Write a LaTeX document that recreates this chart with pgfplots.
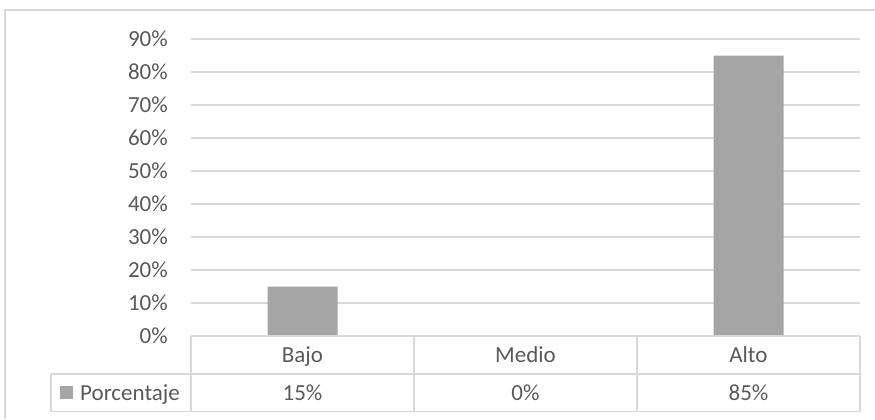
\documentclass[border=0pt]{standalone}
\usepackage{fontspec}
\setmainfont{Carlito}
\usepackage{pgfplots}
\pgfplotsset{compat=1.18}
\definecolor{barcol}{HTML}{A5A5A5}
\definecolor{gridcol}{HTML}{D9D9D9}
\definecolor{txtcol}{HTML}{595959}
\newcommand{\lbl}{\fontsize{23bp}{27bp}\selectfont}
\begin{document}
\begin{tikzpicture}[x=1bp,y=1bp]
\useasboundingbox (0,0) rectangle (875,419);
% chart frame (cut by the image edge at right and bottom)
\draw[gridcol, line width=1.2bp] (5,0) -- (5,409) -- (875,409);
\begin{axis}[
  at={(191bp,83bp)}, anchor=south west,
  scale only axis, width=669bp, height=297bp,
  xmin=-0.5, xmax=2.5, ymin=0, ymax=90,
  ybar, bar width=70bp,
  xtick=\empty,
  ytick={0,10,...,90},
  yticklabel={\pgfmathprintnumber{\tick}\%},
  /pgf/number format/assume math mode=true,
  ymajorgrids, grid style={gridcol, line width=1.2bp},
  axis line style={draw=none},
  major tick length=0pt,
  tick label style={font=\lbl, text=txtcol},
  yticklabel style={inner sep=0pt, xshift=-23bp},
]
\addplot[fill=barcol, draw=none] coordinates {(0,15) (1,0) (2,85)};
\end{axis}
% data table
\begin{scope}[gridcol, line width=1.2bp]
  \draw (191,83) -- (860,83);
  \draw (51,45) -- (860,45);
  \draw (51,7.5) -- (860,7.5);
  \draw (51,45) -- (51,7.5);
  \foreach \x in {191,414,637,860} \draw (\x,83) -- (\x,7.5);
\end{scope}
\begin{scope}[every node/.style={font=\lbl, text=txtcol, anchor=base, inner sep=0pt}]
  \node at (302.5,57) {Bajo};
  \node at (525.5,57) {Medio};
  \node at (748.5,57) {Alto};
  \node at (302.5,18.5) {15\%};
  \node at (525.5,18.5) {0\%};
  \node at (748.5,18.5) {85\%};
  \node[anchor=base west] at (80,18.5) {Porcentaje};
\end{scope}
\fill[barcol] (60,20) rectangle (73,33);
\end{tikzpicture}
\end{document}
